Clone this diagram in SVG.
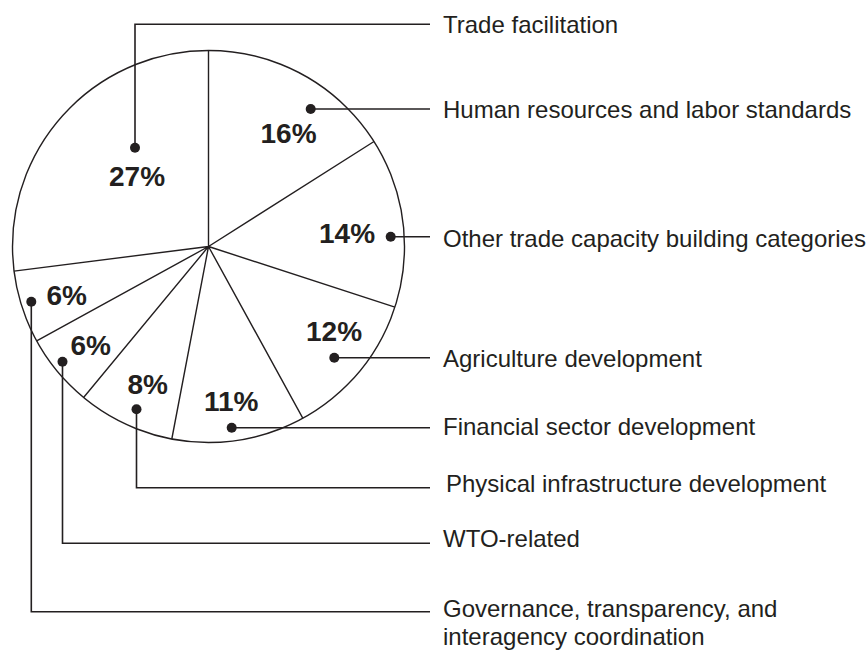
<svg xmlns="http://www.w3.org/2000/svg" width="868" height="650" viewBox="0 0 868 650">
<style>
.pie{fill:none;stroke:#231f20;stroke-width:1.4}
.lead{fill:none;stroke:#231f20;stroke-width:1.6}
.dot{fill:#231f20}
.pct{font-family:"Liberation Sans",Arial,sans-serif;font-weight:bold;font-size:28px;fill:#231f20}
.lbl{font-family:"Liberation Sans",Arial,sans-serif;font-size:24px;fill:#231f20}
</style>
<rect width="868" height="650" fill="#fff"/>
<g id="pie">
<circle class="pie" cx="208.5" cy="246.5" r="196"/>
<path class="pie" d="M208.5 246.5L208.5 50.5M208.5 246.5L374 141.5M208.5 246.5L394.9 307.1M208.5 246.5L302.9 418.3M208.5 246.5L171.8 439M208.5 246.5L83.6 397.5M208.5 246.5L36.7 340.9M208.5 246.5L14 271.1"/>
</g>
<g id="connectors">
<path class="lead" d="M135 147.7V24.3H430"/>
<path class="lead" d="M310.7 109H430"/>
<path class="lead" d="M390.7 236.7H430"/>
<path class="lead" d="M334.3 357.7H430"/>
<path class="lead" d="M231.7 427.7H430"/>
<path class="lead" d="M136.5 409.3V487.7H430"/>
<path class="lead" d="M62.5 361.7V543.3H430"/>
<path class="lead" d="M31.3 301.7V611.7H430"/>
</g>
<g id="trade-facilitation">
<circle class="dot" cx="135" cy="147.7" r="5"/>
<text class="pct" x="109" y="186">27%</text>
<text class="lbl" x="443" y="33">Trade facilitation</text>
</g>
<g id="human-resources">
<circle class="dot" cx="310.7" cy="109" r="5"/>
<text class="pct" x="260.5" y="143.3">16%</text>
<text class="lbl" x="443" y="118.3">Human resources and labor standards</text>
</g>
<g id="other-trade">
<circle class="dot" cx="390.7" cy="236.7" r="5"/>
<text class="pct" x="319" y="243.3">14%</text>
<text class="lbl" x="443" y="246.7">Other trade capacity building categories</text>
</g>
<g id="agriculture">
<circle class="dot" cx="334.3" cy="357.7" r="5"/>
<text class="pct" x="306" y="340.7">12%</text>
<text class="lbl" x="443" y="366.7">Agriculture development</text>
</g>
<g id="financial">
<circle class="dot" cx="231.7" cy="427.7" r="5"/>
<text class="pct" x="204" y="411">11%</text>
<text class="lbl" x="443" y="435">Financial sector development</text>
</g>
<g id="physical">
<circle class="dot" cx="136.5" cy="409.3" r="5"/>
<text class="pct" x="127.5" y="394.3">8%</text>
<text class="lbl" x="446" y="491.7">Physical infrastructure development</text>
</g>
<g id="wto">
<circle class="dot" cx="62.5" cy="361.7" r="5"/>
<text class="pct" x="70.5" y="355">6%</text>
<text class="lbl" x="443" y="546.7">WTO-related</text>
</g>
<g id="governance">
<circle class="dot" cx="31.3" cy="301.7" r="5"/>
<text class="pct" x="46.5" y="305">6%</text>
<text class="lbl" x="443" y="616.7">Governance, transparency, and</text>
<text class="lbl" x="443" y="645">interagency coordination</text>
</g>
</svg>
